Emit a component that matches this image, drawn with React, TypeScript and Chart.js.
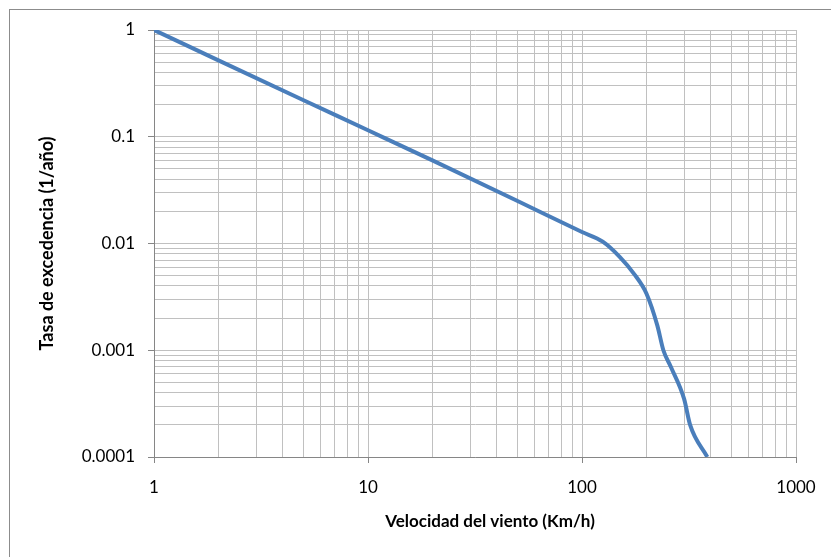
import React, { useEffect, useRef } from "react";
import { Chart, registerables } from "chart.js";

Chart.register(...registerables);

// Wind speed (km/h) vs. annual exceedance rate (1/year)
const windSpeed = [1, 2, 5, 10, 20, 50, 100, 125, 150, 175, 200, 225, 240, 260, 300, 320, 385];
const exceedanceRate = [
  1, 0.52, 0.22, 0.115, 0.06, 0.025, 0.0128, 0.0104, 0.0075, 0.0052, 0.0034, 0.0017, 0.001,
  0.0007, 0.00035, 0.0002, 0.0001,
];

const xMajorTicks = [1, 10, 100, 1000];
const yMajorTicks = [0.0001, 0.001, 0.01, 0.1, 1];

const xTitle = "Velocidad del viento (Km/h)";
const yTitle = "Tasa de excedencia (1/año)";

const FONT = "Lato, 'Open Sans', sans-serif";
const GRID = "#C0C0C0";
const AXIS = "#868686";

// all 1..9 multiples inside each decade, plus the closing decade
function logGrid(majors: number[]): number[] {
  const out: number[] = [];
  for (let i = 0; i < majors.length - 1; i++) {
    for (let k = 1; k <= 9; k++) out.push(majors[i] * k);
  }
  out.push(majors[majors.length - 1]);
  return out;
}

const isDecade = (v: number) => {
  const l = Math.log10(v);
  return Math.abs(l - Math.round(l)) < 1e-9;
};

// white page, outer chart frame and the horizontal axis title (centred on the whole frame)
const frame = {
  id: "frame",
  beforeDraw(chart: any) {
    const { ctx, width, height } = chart;
    ctx.save();
    ctx.fillStyle = "#ffffff";
    ctx.fillRect(0, 0, width, height);
    ctx.strokeStyle = "#8C8C8C";
    ctx.lineWidth = 1;
    ctx.strokeRect(9.5, 9.5, width + 50, height + 50);
    ctx.restore();
  },
  afterDraw(chart: any) {
    const { ctx } = chart;
    ctx.save();
    ctx.fillStyle = "#000";
    ctx.font = `bold 17px ${FONT}`;
    ctx.textAlign = "center";
    ctx.textBaseline = "middle";
    ctx.fillText(xTitle, 490, 522);
    ctx.restore();
  },
};

export default function App() {
  const ref = useRef<HTMLCanvasElement | null>(null);

  useEffect(() => {
    document.body.style.margin = "0";
    const canvas = ref.current;
    if (!canvas) return;

    const points = windSpeed.map((x, i) => ({ x, y: exceedanceRate[i] }));
    const xGrid = logGrid(xMajorTicks);
    const yGrid = logGrid(yMajorTicks);

    const chart = new Chart(canvas, {
      type: "line",
      data: {
        datasets: [
          {
            data: points,
            borderColor: "#4A7EBB",
            borderWidth: 4,
            pointRadius: 0,
            fill: false,
            cubicInterpolationMode: "monotone",
          },
        ],
      },
      options: {
        animation: false,
        responsive: false,
        maintainAspectRatio: false,
        layout: { padding: { top: 30, right: 35, left: 0, bottom: 0 } },
        plugins: { legend: { display: false }, tooltip: { enabled: false } },
        scales: {
          x: {
            type: "logarithmic",
            min: 1,
            max: 1000,
            afterBuildTicks: (s: any) => {
              s.ticks = xGrid.map((v) => ({ value: v, major: isDecade(v) }));
            },
            afterFit: (s: any) => {
              s.height = 100;
            },
            ticks: {
              autoSkip: false,
              maxRotation: 0,
              padding: 14,
              color: "#000",
              font: { family: FONT, size: 17 },
              callback: (v: any) => {
                const m = xMajorTicks.find((t) => Math.abs(t - Number(v)) < 1e-9);
                return m !== undefined ? String(m) : "";
              },
            },
            grid: {
              color: GRID,
              lineWidth: 1,
              tickLength: 6,
              tickColor: (c: any) => (c.tick && isDecade(c.tick.value) ? AXIS : "transparent"),
            },
            border: { color: AXIS, width: 1 },
            title: { display: false },
          },
          y: {
            type: "logarithmic",
            min: 0.0001,
            max: 1,
            afterBuildTicks: (s: any) => {
              s.ticks = yGrid.map((v) => ({ value: v, major: isDecade(v) }));
            },
            afterFit: (s: any) => {
              s.width = 154;
            },
            ticks: {
              autoSkip: false,
              padding: 13,
              color: "#000",
              font: { family: FONT, size: 17 },
              callback: (v: any) => {
                const m = yMajorTicks.find((t) => Math.abs(Math.log10(t) - Math.log10(Number(v))) < 1e-9);
                return m !== undefined ? String(m) : "";
              },
            },
            grid: {
              color: GRID,
              lineWidth: 1,
              tickLength: 6,
              tickColor: (c: any) => (c.tick && isDecade(c.tick.value) ? AXIS : "transparent"),
            },
            border: { color: AXIS, width: 1 },
            title: {
              display: true,
              text: yTitle,
              color: "#000",
              font: { family: FONT, size: 18, weight: "bold" },
              padding: { top: 36, bottom: 0 },
            },
          },
        },
      },
      plugins: [frame],
    } as any);

    return () => chart.destroy();
  }, []);

  return (
    <div style={{ position: "fixed", left: 0, top: 0, width: 831, height: 557 }}>
      <canvas ref={ref} width={831} height={557} style={{ display: "block", width: 831, height: 557 }} />
    </div>
  );
}
